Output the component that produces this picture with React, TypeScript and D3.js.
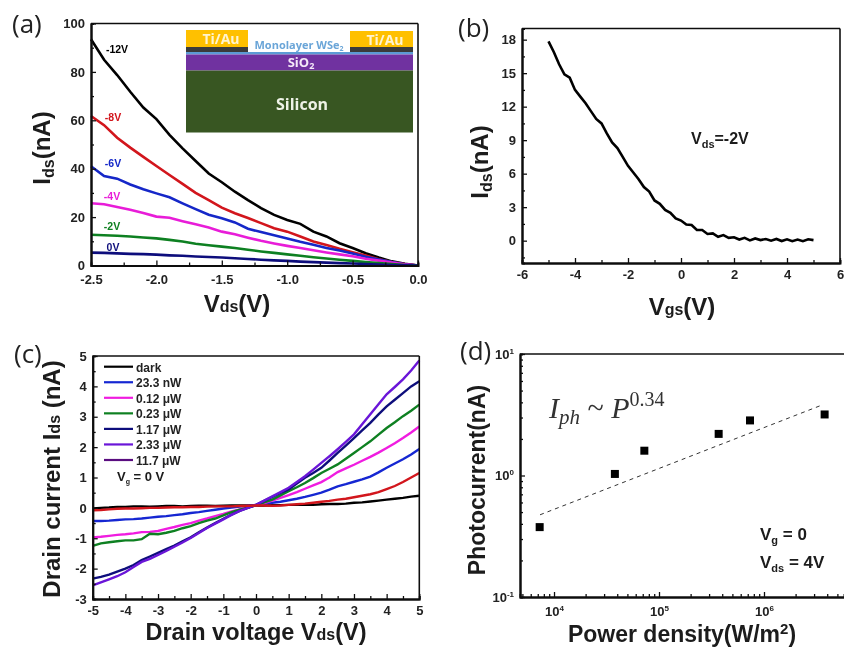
import React, { useEffect, useRef } from 'react';
import * as d3 from 'd3';

// panel (a) Ids vs Vds
const vdsA = [-2.5, -2.4, -2.3, -2.2, -2.1, -2.0, -1.9, -1.8, -1.7, -1.6, -1.5, -1.4, -1.3, -1.2, -1.1, -1.0, -0.9, -0.8, -0.7, -0.6, -0.5, -0.4, -0.3, -0.2, -0.1, 0];
const i12 = [93.5, 85, 78.7, 71.8, 65.3, 60.5, 54, 48.4, 43.2, 38, 34.4, 30.5, 27, 23.7, 20.9, 18.8, 17.2, 14, 12, 9.2, 7.2, 5.1, 3.3, 1.7, 0.7, 0];
const i8 = [61.8, 58, 52.8, 48.7, 44.9, 41.1, 37.4, 33.7, 30, 27, 23.9, 21.6, 19.6, 17.5, 15.4, 14, 12, 9.9, 8.5, 6.9, 5.5, 4.1, 2.6, 1.4, 0.6, 0];
const i6 = [41, 37, 35.9, 33.5, 31.5, 29.8, 28.2, 25.7, 23.3, 21, 19.5, 17.8, 15.2, 13.8, 12.5, 11.2, 9.8, 8.6, 7.2, 6.2, 5, 3.6, 2.5, 1.4, 0.5, 0];
const i4 = [25.7, 25.3, 24.2, 23, 21.7, 20.2, 19.7, 18.3, 17, 15.7, 14, 12.9, 11.5, 10.2, 9.1, 8.1, 7.2, 6.3, 5.4, 4.6, 3.8, 2.8, 2, 1.2, 0.4, 0];
const i2 = [12.7, 12.5, 12.3, 12, 11.6, 11.2, 10.6, 9.9, 9, 8.4, 7.8, 7.2, 6.5, 5.8, 5.2, 4.6, 4, 3.4, 2.9, 2.4, 1.9, 1.4, 1, 0.6, 0.2, 0];
const i0 = [5.3, 5.2, 5, 4.8, 4.7, 4.5, 4.2, 4, 3.7, 3.5, 3.3, 3, 2.7, 2.4, 2.1, 1.9, 1.6, 1.4, 1.2, 1, 0.8, 0.6, 0.4, 0.2, 0.1, 0];

// panel (b) Ids vs Vgs
const vgs = [-5, -4.8, -4.6, -4.4, -4.2, -4, -3.8, -3.6, -3.4, -3.2, -3, -2.8, -2.6, -2.4, -2.2, -2, -1.8, -1.6, -1.4, -1.2, -1, -0.8, -0.6, -0.4, -0.2, 0, 0.2, 0.4, 0.6, 0.8, 1, 1.2, 1.4, 1.6, 1.8, 2, 2.2, 2.4, 2.6, 2.8, 3, 3.2, 3.4, 3.6, 3.8, 4, 4.2, 4.4, 4.6, 4.8, 5];
const idsB = [17.85, 16.9, 15.8, 14.9, 14.6, 13.5, 12.9, 12.3, 11.6, 10.9, 10.5, 9.6, 8.8, 8.3, 7.5, 6.7, 6.1, 5.5, 4.8, 4.4, 3.6, 3.3, 2.75, 2.5, 2.0, 1.8, 1.45, 1.4, 0.95, 0.95, 0.6, 0.65, 0.35, 0.5, 0.25, 0.3, 0.1, 0.25, 0.02, 0.2, 0.05, 0.15, 0, 0.15, -0.03, 0.12, -0.05, 0.1, -0.05, 0.12, 0.05];

// panel (c) drain current vs drain voltage
const vdsC = [-5, -4.75, -4.5, -4.25, -4, -3.75, -3.5, -3.25, -3, -2.75, -2.5, -2.25, -2, -1.75, -1.5, -1.25, -1, -0.75, -0.5, -0.25, 0, 0.25, 0.5, 0.75, 1, 1.25, 1.5, 1.75, 2, 2.25, 2.5, 2.75, 3, 3.25, 3.5, 3.75, 4, 4.25, 4.5, 4.75, 5];
const dark = [-0.02, 0, 0.01, 0.03, 0.03, 0.05, 0.05, 0.04, 0.05, 0.06, 0.06, 0.05, 0.06, 0.07, 0.07, 0.06, 0.07, 0.08, 0.08, 0.08, 0.08, 0.08, 0.09, 0.09, 0.1, 0.1, 0.11, 0.1, 0.12, 0.13, 0.13, 0.14, 0.17, 0.18, 0.21, 0.24, 0.27, 0.3, 0.33, 0.37, 0.4];
const redC = [-0.08, -0.07, -0.05, -0.03, -0.02, -0.02, -0.01, 0, 0, 0.01, 0.02, 0.02, 0.03, 0.03, 0.04, 0.05, 0.05, 0.05, 0.06, 0.07, 0.08, 0.08, 0.07, 0.08, 0.1, 0.12, 0.14, 0.17, 0.2, 0.23, 0.27, 0.3, 0.35, 0.4, 0.45, 0.52, 0.62, 0.72, 0.85, 1.0, 1.15];
const p23n = [-0.43, -0.43, -0.42, -0.4, -0.38, -0.37, -0.35, -0.32, -0.29, -0.27, -0.24, -0.21, -0.17, -0.14, -0.1, -0.06, -0.02, 0.01, 0.04, 0.07, 0.1, 0.13, 0.17, 0.2, 0.25, 0.3, 0.36, 0.43, 0.5, 0.6, 0.71, 0.78, 0.86, 0.94, 1.03, 1.17, 1.32, 1.46, 1.6, 1.76, 1.94];
const p012 = [-0.97, -0.95, -0.92, -0.89, -0.87, -0.84, -0.8, -0.79, -0.76, -0.69, -0.63, -0.56, -0.5, -0.42, -0.35, -0.27, -0.2, -0.12, -0.05, 0.02, 0.08, 0.16, 0.24, 0.33, 0.42, 0.52, 0.63, 0.74, 0.85, 1.0, 1.18, 1.3, 1.42, 1.55, 1.68, 1.82, 1.97, 2.13, 2.3, 2.48, 2.68];
const p023 = [-1.25, -1.17, -1.13, -1.1, -1.07, -1.07, -1.03, -0.85, -0.87, -0.82, -0.76, -0.67, -0.6, -0.5, -0.42, -0.35, -0.25, -0.14, -0.06, 0.01, 0.08, 0.18, 0.27, 0.41, 0.55, 0.68, 0.82, 0.98, 1.15, 1.29, 1.43, 1.62, 1.81, 2.0, 2.19, 2.41, 2.63, 2.82, 3.02, 3.2, 3.4];
const p117 = [-2.33, -2.27, -2.2, -2.1, -2.0, -1.88, -1.72, -1.6, -1.48, -1.36, -1.24, -1.1, -0.97, -0.8, -0.65, -0.5, -0.36, -0.22, -0.1, 0, 0.1, 0.23, 0.36, 0.49, 0.61, 0.8, 0.99, 1.15, 1.32, 1.56, 1.81, 2.05, 2.3, 2.55, 2.8, 3.08, 3.34, 3.56, 3.78, 4.0, 4.17];
const p233 = [-2.55, -2.45, -2.35, -2.25, -2.12, -1.95, -1.78, -1.68, -1.55, -1.42, -1.28, -1.14, -0.99, -0.83, -0.66, -0.52, -0.38, -0.23, -0.1, 0, 0.1, 0.24, 0.38, 0.52, 0.66, 0.85, 1.04, 1.26, 1.48, 1.7, 1.93, 2.17, 2.42, 2.75, 3.08, 3.41, 3.74, 3.98, 4.23, 4.52, 4.85];
const legendNames = ['dark', '23.3 nW', '0.12 μW', '0.23 μW', '1.17 μW', '2.33 μW', '11.7 μW'];
const legendColors = ['#000000', '#1428d2', '#f01ee0', '#108020', '#10107c', '#6a14d8', '#5a1080'];

// panel (d) photocurrent vs power density
const power = [7300, 38000, 72500, 370000, 736000, 3780000];
const photo = [0.376, 1.03, 1.6, 2.2, 2.84, 3.18];
const fitP = [7360, 3620000];
const fitI = [0.475, 3.82];

const SANS = '"Liberation Sans", Arial, sans-serif';
const hyphen = (f) => (d) => f(d).replace('\u2212', '-');

function drawFrame(g, x, y, xMajor, xMinor, yMajor, yMinor, xFmt, yFmt, xPad = 7) {
  const [x0, x1] = x.range();
  const [y0, y1] = y.range();
  const style = (a) => {
    a.selectAll('path').attr('stroke-width', 2).attr('stroke', '#111');
    a.selectAll('line').attr('stroke-width', 1.3).attr('stroke', '#111');
    a.selectAll('text').attr('font-family', SANS).attr('font-weight', 'bold').attr('font-size', 13).attr('fill', '#222');
  };
  g.append('g').attr('transform', `translate(0,${y0})`)
    .call(d3.axisBottom(x).tickValues(xMinor).tickSize(-3).tickFormat(() => '')).call(style);
  g.append('g').attr('transform', `translate(0,${y0})`)
    .call(d3.axisBottom(x).tickValues(xMajor).tickSizeInner(-5).tickSizeOuter(0).tickPadding(xPad).tickFormat(xFmt)).call(style);
  g.append('g').attr('transform', `translate(${x0},0)`)
    .call(d3.axisLeft(y).tickValues(yMinor).tickSize(-3).tickFormat(() => '')).call(style);
  g.append('g').attr('transform', `translate(${x0},0)`)
    .call(d3.axisLeft(y).tickValues(yMajor).tickSizeInner(-5).tickSizeOuter(0).tickPadding(6).tickFormat(yFmt)).call(style);
  g.append('line').attr('x1', x0).attr('x2', x1).attr('y1', y1).attr('y2', y1).attr('stroke', '#111').attr('stroke-width', 1.6);
}

// text with sub-parts: parts = [[string, size, dy]]
function richText(g, px, py, parts, opts: any = {}) {
  const t = g.append('text')
    .attr('transform', `translate(${px},${py})${opts.rotate ? ' rotate(-90)' : ''}`)
    .attr('text-anchor', opts.anchor || 'middle')
    .attr('font-family', opts.family || SANS)
    .attr('font-weight', opts.weight || 'bold')
    .attr('fill', opts.fill || '#1a1a1a');
  parts.forEach(([s, size, dy, extra]) => {
    const sp = t.append('tspan').attr('font-size', size).attr('dy', dy || 0).text(s);
    if (extra) Object.keys(extra).forEach((k) => sp.attr(k, extra[k]));
  });
  return t;
}

function panelLetter(g, s, px, py) {
  g.append('text').attr('x', px).attr('y', py).attr('font-family', '"Open Sans", sans-serif')
    .attr('font-size', 26).attr('fill', '#222').text(s);
}

function drawA(g) {
  const x = d3.scaleLinear().domain([-2.5, 0]).range([91, 418]);
  const y = d3.scaleLinear().domain([0, 100]).range([265.5, 23.5]);
  const curves = [
    { v: i12, c: '#000000', name: '-12V', lx: 117, ly: 53 },
    { v: i8, c: '#d2141c', name: '-8V', lx: 113, ly: 121 },
    { v: i6, c: '#1428c8', name: '-6V', lx: 113, ly: 167 },
    { v: i4, c: '#e81ed8', name: '-4V', lx: 112, ly: 200 },
    { v: i2, c: '#108020', name: '-2V', lx: 112, ly: 230 },
    { v: i0, c: '#10107c', name: '0V', lx: 113, ly: 251 },
  ];
  const line = d3.line().x((d) => x(d[0])).y((d) => y(d[1]));
  curves.forEach((s) => {
    g.append('path').attr('d', line(vdsA.map((v, i) => [v, s.v[i]]))).attr('fill', 'none')
      .attr('stroke', s.c).attr('stroke-width', 2.6);
    g.append('text').attr('x', s.lx).attr('y', s.ly).attr('text-anchor', 'middle').attr('font-family', SANS)
      .attr('font-size', 10.5).attr('font-weight', 'bold').attr('fill', s.c).text(s.name);
  });
  drawFrame(g, x, y, d3.range(-2.5, 0.01, 0.5), d3.range(-2.25, 0, 0.5), d3.range(0, 101, 20), d3.range(10, 100, 20),
    hyphen(d3.format('.1f')), d3.format('d'), 9);
  g.append('line').attr('x1', 418).attr('x2', 418).attr('y1', 23.5).attr('y2', 265.5).attr('stroke', '#111').attr('stroke-width', 1.6);

  // device schematic inset
  const layer = (lx, ly, w, h, c) => g.append('rect').attr('x', lx).attr('y', ly).attr('width', w).attr('height', h).attr('fill', c);
  layer(186, 30, 62, 17, '#ffc000');
  layer(350, 31, 63, 16, '#ffc000');
  layer(186, 47, 62, 5, '#3a3a3a');
  layer(350, 47, 63, 5, '#3a3a3a');
  layer(186, 52, 227, 2.5, '#5b9bd5');
  layer(186, 54.5, 227, 16, '#7030a0');
  layer(186, 70.5, 227, 62, '#375623');
  const cal = '"Open Sans", sans-serif';
  richText(g, 221, 44, [['Ti/Au', 14]], { family: cal, fill: '#fff4d0' });
  richText(g, 385, 45, [['Ti/Au', 14]], { family: cal, fill: '#fff4d0' });
  richText(g, 299, 49, [['Monolayer WSe', 11], ['2', 7, 2]], { family: cal, fill: '#6aa5d8' });
  richText(g, 301, 67, [['SiO', 13], ['2', 9, 2]], { family: cal, fill: '#f4e8f8' });
  richText(g, 302, 110, [['Silicon', 16]], { family: cal, fill: '#eef2e6' });

  richText(g, 237, 312, [['V', 24], ['ds', 16], ['(V)', 24]]);
  richText(g, 50, 148, [['I', 24], ['ds', 16, 4], ['(nA)', 24, -4]], { rotate: true });
  panelLetter(g, '(a)', 12, 33);
}

function drawB(g) {
  const x = d3.scaleLinear().domain([-6, 6]).range([522, 840]);
  const y = d3.scaleLinear().domain([-2, 19]).range([263, 28.5]);
  const line = d3.line().x((d) => x(d[0])).y((d) => y(d[1]));
  g.append('path').attr('d', line(vgs.map((v, i) => [v, idsB[i]]))).attr('fill', 'none')
    .attr('stroke', '#000').attr('stroke-width', 2.6);
  drawFrame(g, x, y, d3.range(-6, 7, 2), d3.range(-5, 6, 2), d3.range(0, 19, 3), d3.range(-1.5, 18, 3),
    hyphen(d3.format('d')), d3.format('d'));
  g.append('line').attr('x1', 840).attr('x2', 840).attr('y1', 28.5).attr('y2', 263).attr('stroke', '#111').attr('stroke-width', 1.6);
  richText(g, 691, 144, [['V', 16], ['ds', 11, 4], ['=-2V', 16, -4]], { anchor: 'start' });
  richText(g, 682, 315, [['V', 24], ['gs', 16], ['(V)', 24]]);
  richText(g, 488, 162, [['I', 24], ['ds', 16, 4], ['(nA)', 24, -4]], { rotate: true });
  panelLetter(g, '(b)', 458, 37);
}

function drawC(g) {
  const x = d3.scaleLinear().domain([-5, 5]).range([92.7, 419.3]);
  const y = d3.scaleLinear().domain([-3, 5]).range([599, 356]);
  const line = d3.line().x((d) => x(d[0])).y((d) => y(d[1]));
  const curves = [
    [dark, '#000000'], [p23n, '#1428d2'], [p012, '#f01ee0'], [p023, '#108020'],
    [p117, '#10107c'], [p233, '#6a14d8'], [redC, '#d2141c'],
  ];
  curves.forEach(([v, c]) => {
    g.append('path').attr('d', line(vdsC.map((d, i) => [d, v[i]]))).attr('fill', 'none')
      .attr('stroke', c).attr('stroke-width', 2.4);
  });
  drawFrame(g, x, y, d3.range(-5, 6), d3.range(-4.5, 5, 1), d3.range(-3, 6), d3.range(-2.5, 5, 1),
    hyphen(d3.format('d')), hyphen(d3.format('d')));
  g.append('line').attr('x1', 419.3).attr('x2', 419.3).attr('y1', 356).attr('y2', 599).attr('stroke', '#111').attr('stroke-width', 1.6);
  legendNames.forEach((name, i) => {
    const ry = 366.7 + i * 15.55;
    g.append('line').attr('x1', 104).attr('x2', 133).attr('y1', ry).attr('y2', ry)
      .attr('stroke', legendColors[i]).attr('stroke-width', 2.2);
    g.append('text').attr('x', 136).attr('y', ry + 5).attr('font-family', SANS).attr('font-size', 12)
      .attr('font-weight', 'bold').attr('fill', '#222').text(name);
  });
  richText(g, 117, 481, [['V', 13], ['g', 7, 3], [' = 0 V', 13, -3]], { anchor: 'start' });
  richText(g, 256, 640, [['Drain voltage V', 23.5], ['ds', 16], ['(V)', 23.5]]);
  richText(g, 60, 479, [['Drain current I', 24], ['ds', 16], [' (nA)', 24]], { rotate: true });
  panelLetter(g, '(c)', 14, 363);
}

function drawD(g) {
  const x = d3.scaleLog().domain([Math.pow(10, 3.676), Math.pow(10, 6.762)]).range([520, 844]);
  const y = d3.scaleLog().domain([0.1, 10]).range([597, 354]);
  const line = d3.line().x((d) => x(d[0])).y((d) => y(d[1]));
  g.append('path').attr('d', line(fitP.map((p, i) => [p, fitI[i]]))).attr('fill', 'none')
    .attr('stroke', '#333').attr('stroke-width', 1).attr('stroke-dasharray', '4 4');
  const sq = d3.symbol().type(d3.symbolSquare).size(64);
  power.forEach((p, i) => {
    g.append('path').attr('d', sq()).attr('transform', `translate(${x(p)},${y(photo[i])})`).attr('fill', '#000');
  });
  const minorsX: number[] = [];
  [1e3, 1e4, 1e5, 1e6].forEach((b) => d3.range(2, 10).forEach((m) => {
    if (b * m > x.domain()[0] && b * m < x.domain()[1]) minorsX.push(b * m);
  }));
  const minorsY: number[] = [];
  [0.1, 1].forEach((b) => d3.range(2, 10).forEach((m) => minorsY.push(b * m)));
  drawFrame(g, x, y, [1e4, 1e5, 1e6], minorsX, [0.1, 1, 10], minorsY, () => '10', () => '10', 10);
  // exponents on the log tick labels
  g.selectAll('g.tick text').filter(function () { return d3.select(this).text() === '10'; })
    .each(function (d) {
      d3.select(this).append('tspan').attr('font-size', 8).attr('dy', '-0.6em').text(String(Math.round(Math.log10(d))));
    });
  const serif = '"Liberation Serif", serif';
  richText(g, 549, 418, [
    ['I', 30, 0, { 'font-style': 'italic' }],
    ['ph', 21, 6, { 'font-style': 'italic' }],
    [' ~ ', 30, -6],
    ['P', 30, 0, { 'font-style': 'italic' }],
    ['0.34', 20, -12],
  ], { family: serif, anchor: 'start', weight: 'normal', fill: '#333' });
  richText(g, 760, 540, [['V', 17], ['g', 11, 4], [' = 0', 17, -4]], { anchor: 'start' });
  richText(g, 760, 568, [['V', 17], ['ds', 11, 4], [' = 4V', 17, -4]], { anchor: 'start' });
  richText(g, 682, 642, [['Power density(W/m', 23], ['2', 15, -8], [')', 23, 8]]);
  richText(g, 485, 480, [['Photocurrent(nA)', 23]], { rotate: true });
  panelLetter(g, '(d)', 460, 360);
}

export default function App() {
  const ref = useRef(null);
  useEffect(() => {
    const svg = d3.select(ref.current);
    svg.selectAll('*').remove();
    // the source figure is a soft, resampled scan
    svg.append('defs').append('filter').attr('id', 'soft')
      .attr('x', 0).attr('y', 0).attr('width', 844).attr('height', 648).attr('filterUnits', 'userSpaceOnUse')
      .append('feGaussianBlur').attr('stdDeviation', 0.45);
    const root = svg.append('g').attr('filter', 'url(#soft)');
    root.append('rect').attr('width', 844).attr('height', 648).attr('fill', '#fff');
    [drawA, drawB, drawC, drawD].forEach((f) => f(root.append('g')));
  }, []);
  return <svg ref={ref} width={844} height={648} style={{ position: 'absolute', left: 0, top: 0, background: '#fff' }} />;
}
